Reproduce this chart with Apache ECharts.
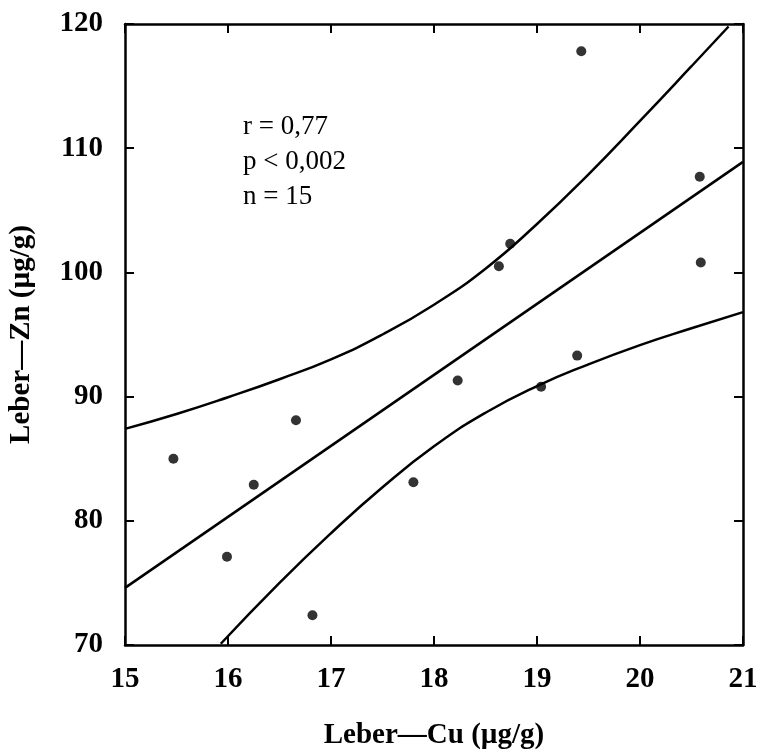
<!DOCTYPE html>
<html><head><meta charset="utf-8">
<script src="https://cdn.jsdelivr.net/npm/echarts@6/dist/echarts.min.js"></script>
<style>html,body{margin:0;padding:0;background:#fff}#c{width:757px;height:754px}</style>
</head><body><div id="c"></div>
<script>
// Data
const cuValues = [15.47, 15.99, 16.25, 16.66, 16.82, 17.80, 18.23, 19.04, 19.39, 18.74, 18.63, 20.59, 19.43, 20.58];
const znValues = [85.0, 77.1, 82.9, 88.1, 72.4, 83.1, 91.3, 90.8, 93.3, 102.3, 100.5, 100.8, 117.8, 107.7];
const fitX = [15, 21];
const fitY = [74.6, 108.9];
const upperX = [15, 15.5, 16, 16.5, 17, 17.5, 18, 18.5, 19, 19.5, 20, 20.5, 20.86];
const upperY = [87.4, 88.6, 89.95, 91.4, 93.0, 95.0, 97.4, 100.3, 103.9, 107.9, 112.2, 116.6, 119.8];
const lowerX = [15.93, 16.5, 17, 17.5, 18, 18.5, 19, 19.5, 20, 20.5, 21];
const lowerY = [70.1, 75.0, 79.0, 82.7, 86.0, 88.7, 90.85, 92.6, 94.15, 95.5, 96.8];
const xTicks = [15, 16, 17, 18, 19, 20, 21];
const yTicks = [70, 80, 90, 100, 110, 120];
const statLines = ['r = 0,77', 'p < 0,002', 'n = 15'];
const xTitle = 'Leber—Cu (µg/g)';
const yTitle = 'Leber—Zn (µg/g)';

const zip = (a, b) => a.map((v, i) => [v, b[i]]);
const serif = 'Liberation Serif';
const lineStyle = {color: '#000', width: 2.5};
const axisLine = {show: true, onZero: false, lineStyle: {color: '#000', width: 2.5}};
const tick = {inside: true, length: 9, lineStyle: {color: '#000', width: 2}};

const chart = echarts.init(document.getElementById('c'), null, {renderer: 'canvas'});
chart.setOption({
  animation: false,
  backgroundColor: '#fff',
  grid: {left: 125, right: 14, top: 24, bottom: 109, containLabel: false, outerBoundsMode: 'none'},
  xAxis: [{
    type: 'value', min: xTicks[0], max: xTicks[xTicks.length - 1], interval: 1,
    position: 'bottom', axisLine, axisTick: tick,
    splitLine: {show: false},
    axisLabel: {color: '#000', fontFamily: serif, fontWeight: 'bold', fontSize: 29, margin: 20},
    name: xTitle, nameLocation: 'middle', nameGap: 76,
    nameTextStyle: {color: '#000', fontFamily: serif, fontWeight: 'bold', fontSize: 29}
  }, {
    type: 'value', min: xTicks[0], max: xTicks[xTicks.length - 1], interval: 1,
    position: 'top', axisLine, axisTick: tick,
    axisLabel: {show: false}, splitLine: {show: false}
  }],
  yAxis: [{
    type: 'value', min: yTicks[0], max: yTicks[yTicks.length - 1], interval: 10,
    position: 'left', axisLine, axisTick: tick,
    splitLine: {show: false},
    axisLabel: {color: '#000', fontFamily: serif, fontWeight: 'bold', fontSize: 29, margin: 22},
    name: yTitle, nameLocation: 'middle', nameGap: 89, nameRotate: 90,
    nameTextStyle: {color: '#000', fontFamily: serif, fontWeight: 'bold', fontSize: 29}
  }, {
    type: 'value', min: yTicks[0], max: yTicks[yTicks.length - 1], interval: 10,
    position: 'right', axisLine, axisTick: tick,
    axisLabel: {show: false}, splitLine: {show: false}
  }],
  graphic: statLines.map((t, i) => ({
    type: 'text', left: 243, top: 113 + i * 35,
    style: {text: t, font: '27px "Liberation Serif"', fill: '#000'}
  })),
  series: [
    {type: 'line', data: zip(fitX, fitY), showSymbol: false, lineStyle, clip: true},
    {type: 'line', data: zip(upperX, upperY), showSymbol: false, smooth: 0.5, lineStyle, clip: true},
    {type: 'line', data: zip(lowerX, lowerY), showSymbol: false, smooth: 0.5, lineStyle, clip: true},
    {type: 'scatter', data: zip(cuValues, znValues), symbol: 'circle', symbolSize: 10,
     itemStyle: {color: '#000'}, z: 5}
  ]
});
</script></body></html>
